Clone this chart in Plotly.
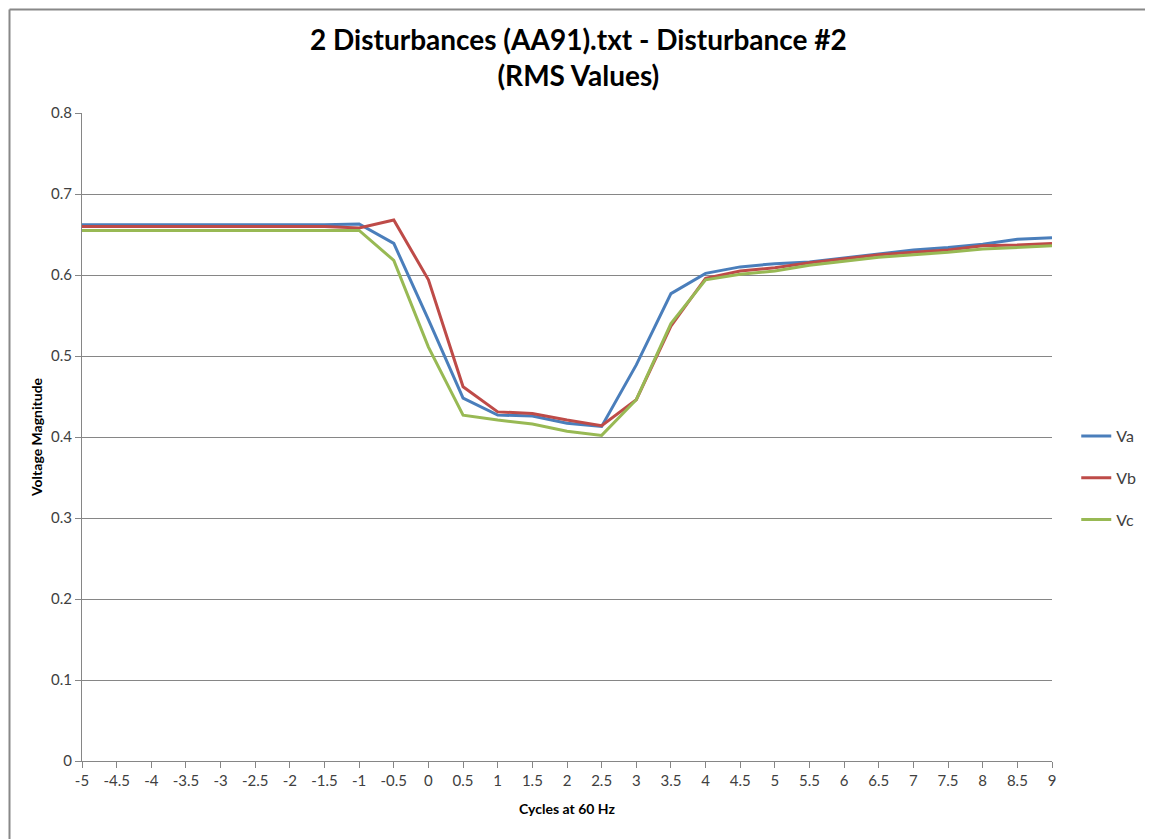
import plotly.graph_objects as go

cycles = [-5, -4.5, -4, -3.5, -3, -2.5, -2, -1.5, -1, -0.5, 0, 0.5, 1, 1.5, 2, 2.5,
          3, 3.5, 4, 4.5, 5, 5.5, 6, 6.5, 7, 7.5, 8, 8.5, 9]
tick_labels = [("%g" % c) for c in cycles]
y_ticks = [0, 0.1, 0.2, 0.3, 0.4, 0.5, 0.6, 0.7, 0.8]
y_tick_text = ["0", "0.1", "0.2", "0.3", "0.4", "0.5", "0.6", "0.7", "0.8"]

va = [0.662, 0.662, 0.662, 0.662, 0.662, 0.662, 0.662, 0.662, 0.663, 0.639, 0.545,
      0.448, 0.427, 0.426, 0.417, 0.413, 0.489, 0.577, 0.602, 0.610, 0.614, 0.616,
      0.621, 0.626, 0.631, 0.634, 0.638, 0.644, 0.646]
vb = [0.660, 0.660, 0.660, 0.660, 0.660, 0.660, 0.660, 0.660, 0.658, 0.668, 0.594,
      0.462, 0.431, 0.429, 0.421, 0.414, 0.446, 0.537, 0.596, 0.605, 0.609, 0.615,
      0.620, 0.625, 0.628, 0.631, 0.636, 0.637, 0.639]
vc = [0.655, 0.655, 0.655, 0.655, 0.655, 0.655, 0.655, 0.655, 0.655, 0.618, 0.511,
      0.427, 0.421, 0.416, 0.407, 0.402, 0.446, 0.540, 0.594, 0.601, 0.605, 0.612,
      0.617, 0.622, 0.625, 0.628, 0.632, 0.634, 0.636]

series = [("Va", va, "#4a7ebb"), ("Vb", vb, "#be4b48"), ("Vc", vc, "#98b954")]

fig = go.Figure()
for name, vals, col in series:
    fig.add_trace(go.Scatter(x=tick_labels, y=vals, name=name, mode="lines",
                             legendgroup=name,
                             line=dict(color=col, width=3)))

FONT = "Lato"
L, T, PW, PH = 74, 105, 970, 648
# page is offset by the 8px default body margin; margins compensate for that
fig.update_layout(
    width=1153, height=839,
    margin=dict(l=L, r=1153 - L - PW, t=T, b=839 - T - PH, autoexpand=False),
    paper_bgcolor="white", plot_bgcolor="white",
    font=dict(family=FONT, color="#404040"),
    showlegend=True,
    legend=dict(x=1.025, y=0.4367, xanchor="left", yanchor="middle",
                font=dict(family=FONT, size=16, color="#404040"),
                tracegroupgap=18, itemwidth=30, bgcolor="rgba(0,0,0,0)"),
    xaxis=dict(type="category", showgrid=False, showline=True, linecolor="#868686",
               linewidth=1, ticks="outside", tickcolor="#868686", ticklen=6,
               tickfont=dict(size=15, color="#404040"), automargin=False,
               title=dict(text="<b>Cycles at 60 Hz</b>", font=dict(size=14, color="black"),
                          standoff=16),
               range=[0, len(cycles) - 1], fixedrange=True),
    yaxis=dict(range=[0, 0.8], tickvals=y_ticks, ticktext=y_tick_text, showgrid=True,
               gridcolor="#868686", gridwidth=1, showline=True, linecolor="#868686",
               ticks="outside", tickcolor="#868686", ticklen=6, automargin=False,
               tickfont=dict(size=15, color="#404040"), zeroline=False,
               title=dict(text="<b>Voltage Magnitude</b>", font=dict(size=14, color="black"),
                          standoff=5)),
)

fig.add_annotation(text="<b>2 Disturbances (AA91).txt - Disturbance #2<br>(RMS Values)</b>",
                   xref="paper", yref="paper", x=(578 - 82) / 970, y=(761 - 57) / 648,
                   xanchor="center", yanchor="middle", showarrow=False,
                   font=dict(family=FONT, size=28, color="black"))

# outer chart border (top and left edges visible), at the figure's own edge
bx = (1.5 - L) / PW
by = 1 + (T - 1.5) / PH
fig.add_shape(type="line", xref="paper", yref="paper",
              x0=bx, x1=(1153 - L) / PW, y0=by, y1=by,
              line=dict(color="#888888", width=2))
fig.add_shape(type="line", xref="paper", yref="paper",
              x0=bx, x1=bx, y0=by, y1=-(839 - T - PH) / PH,
              line=dict(color="#888888", width=2))

fig.write_html("out.html")
